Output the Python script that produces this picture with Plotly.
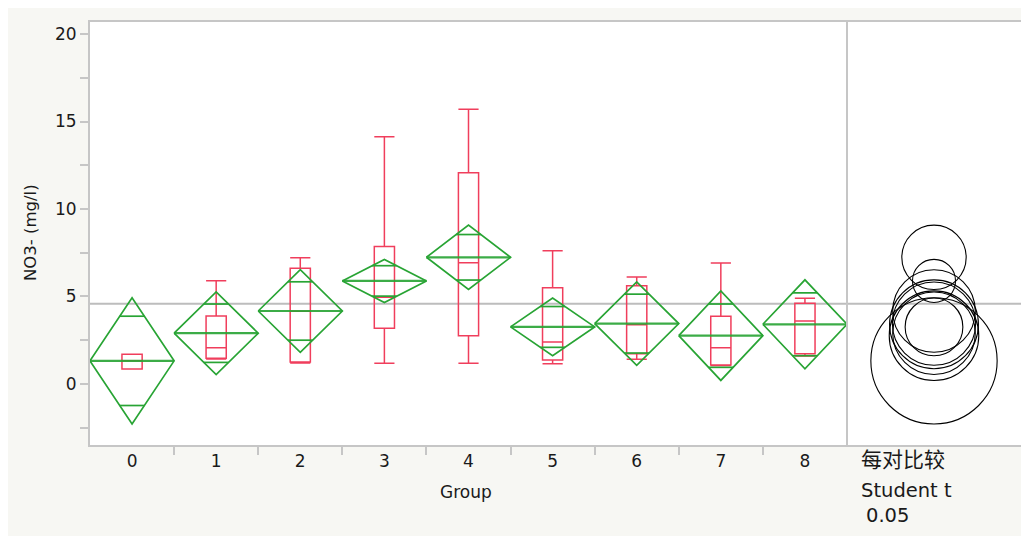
import plotly.graph_objects as go

# ---------------- data ----------------
groups = [0, 1, 2, 3, 4, 5, 6, 7, 8]
group_labels = ["0", "1", "2", "3", "4", "5", "6", "7", "8"]

means = [1.32, 2.90, 4.17, 5.89, 7.24, 3.26, 3.45, 2.76, 3.41]
ci_half = [3.61, 2.36, 2.36, 1.23, 1.84, 1.65, 2.38, 2.56, 2.54]

lower_fence = [0.86, 1.42, 1.20, 1.18, 1.18, 1.16, 1.41, 1.05, 1.60]
q1 = [0.86, 1.47, 1.25, 3.18, 2.76, 1.37, 1.73, 1.09, 1.73]
median = [1.33, 2.07, 4.15, 4.95, 6.93, 2.40, 3.39, 2.07, 3.60]
q3 = [1.70, 3.89, 6.61, 7.85, 12.07, 5.50, 5.62, 3.87, 4.61]
upper_fence = [1.70, 5.90, 7.22, 14.13, 15.70, 7.62, 6.11, 6.91, 4.90]

grand_mean = 4.58

y_ticks = [0, 5, 10, 15, 20]

# ---------------- style ----------------
GREEN = "rgb(40,164,52)"
RED = "rgb(240,62,92)"
AXIS = "#c6c6c6"
FONT = "DejaVu Sans"
TXT = "#1a1a1a"

OFF = 8  # page body margin (top / left)
W, H = 1021 - OFF, 536 - OFF
ML = 90 - OFF
MT = 22 - OFF
MB = H - (445 - OFF)
MR = 0
plot_w = W - ML - MR
plot_h = H - MT - MB
split = (847 - OFF - ML) / plot_w
y_range = [-3.49, 20.69]
px_per_unit = plot_h / (y_range[1] - y_range[0])
panel_right = OFF + W - MR           # screen px of right edge of the right panel
circle_cx = 934                      # screen px of circle centres
x2_range = [-(circle_cx - 847) / px_per_unit, (panel_right - circle_cx) / px_per_unit]

fig = go.Figure()

# diamonds (means diamonds: height = CI, width = category)
half_w = 0.5
dx, dy = [], []
mx, my = [], []
ox, oy = [], []
k = 2 ** -0.5
for g, m, h in zip(groups, means, ci_half):
    dx += [g - half_w, g, g + half_w, g, g - half_w, None]
    dy += [m, m + h, m, m - h, m, None]
    mx += [g - half_w, g + half_w, None]
    my += [m, m, None]
    ow = half_w * (1 - k)
    for s in (1, -1):
        ox += [g - ow, g + ow, None]
        oy += [m + s * h * k, m + s * h * k, None]

fig.add_trace(go.Scatter(x=dx, y=dy, mode="lines", line=dict(color=GREEN, width=1.7),
                         hoverinfo="skip", showlegend=False))
fig.add_trace(go.Scatter(x=mx, y=my, mode="lines", line=dict(color=GREEN, width=2.2),
                         opacity=0.9, hoverinfo="skip", showlegend=False))
fig.add_trace(go.Scatter(x=ox, y=oy, mode="lines", line=dict(color=GREEN, width=1.7),
                         hoverinfo="skip", showlegend=False))

# box plots
fig.add_trace(go.Box(x=groups, q1=q1, median=median, q3=q3,
                     lowerfence=lower_fence, upperfence=upper_fence,
                     width=0.24, whiskerwidth=1, boxpoints=False,
                     fillcolor="rgba(0,0,0,0)", line=dict(color=RED, width=1.5),
                     showlegend=False))

shapes = []
# grand mean line across both panels
shapes.append(dict(type="line", xref="paper", yref="y", x0=0, x1=1, y0=grand_mean, y1=grand_mean,
                   line=dict(color="#bdbdbd", width=2), layer="below"))
# divider between the two panels
shapes.append(dict(type="line", xref="paper", yref="paper", x0=split, x1=split, y0=0, y1=1,
                   line=dict(color=AXIS, width=2)))
# comparison circles
for m, h in zip(means, ci_half):
    shapes.append(dict(type="circle", xref="x2", yref="y", x0=-h, x1=h, y0=m - h, y1=m + h,
                       line=dict(color="black", width=1.1)))


def px_x(p):
    return (p - OFF - ML) / plot_w


def px_y(p):
    return (H - MB - (p - OFF)) / plot_h


annotations = [
    dict(text="NO3- (mg/l)", xref="paper", yref="paper", x=px_x(30), y=px_y(232), textangle=-90,
         showarrow=False, font=dict(family=FONT, size=16.5, color=TXT), xanchor="center", yanchor="middle"),
    dict(text="Group", xref="paper", yref="paper", x=px_x(466), y=px_y(492),
         showarrow=False, font=dict(family=FONT, size=17, color=TXT), xanchor="center", yanchor="middle"),
    dict(text="每对比较", xref="paper", yref="paper", x=px_x(859), y=px_y(458),
         showarrow=False, font=dict(family="Noto Sans CJK SC", size=21, color=TXT), xanchor="left", yanchor="middle"),
    dict(text="Student t", xref="paper", yref="paper", x=px_x(859), y=px_y(490),
         showarrow=False, font=dict(family=FONT, size=19.5, color=TXT), xanchor="left", yanchor="middle"),
    dict(text="0.05", xref="paper", yref="paper", x=px_x(864), y=px_y(516),
         showarrow=False, font=dict(family=FONT, size=19.5, color=TXT), xanchor="left", yanchor="middle"),
]

fig.update_layout(
    width=W, height=H,
    margin=dict(l=ML, r=MR, t=MT, b=MB, pad=0),
    paper_bgcolor="#f7f7f3",
    plot_bgcolor="white",
    showlegend=False,
    shapes=shapes,
    annotations=annotations,
    xaxis=dict(domain=[0, split], range=[-0.5, 8.5], tickmode="array", tickvals=groups,
               ticktext=group_labels, ticks="", showgrid=False, zeroline=False,
               showline=True, mirror=True, linecolor=AXIS, linewidth=2,
               tickfont=dict(family=FONT, size=17, color=TXT),
               minor=dict(tickmode="array", tickvals=[g + 0.5 for g in groups[:-1]],
                          ticks="outside", ticklen=8, tickwidth=1.5, tickcolor=AXIS, showgrid=False)),
    xaxis2=dict(domain=[split, 1], range=x2_range, anchor="y", showticklabels=False,
                ticks="", showgrid=False, zeroline=False, showline=True, mirror=True,
                linecolor=AXIS, linewidth=2),
    yaxis=dict(range=y_range, tickmode="array", tickvals=y_ticks, ticks="outside", ticklen=8,
               tickwidth=1.5, tickcolor=AXIS, showgrid=False, zeroline=False,
               showline=True, mirror=False, linecolor=AXIS, linewidth=2,
               tickfont=dict(family=FONT, size=17, color=TXT),
               minor=dict(tick0=0, dtick=2.5, ticks="outside", ticklen=8, tickwidth=1.5,
                          tickcolor=AXIS, showgrid=False)),
)

fig.write_html(
    "out.html",
    post_script="document.body.style.margin='8px 0 0 8px';document.body.style.overflow='hidden';",
)
